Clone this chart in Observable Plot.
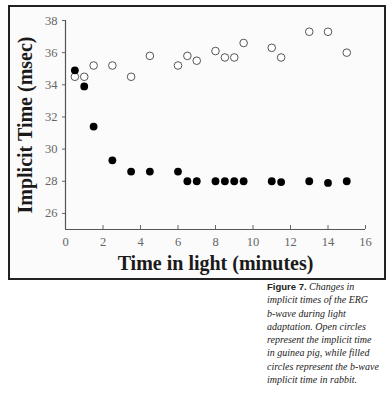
<!DOCTYPE html>
<html>
<head>
<meta charset="utf-8">
<script src="https://cdn.jsdelivr.net/npm/d3@7"></script>
<script src="https://cdn.jsdelivr.net/npm/@observablehq/plot@0.6"></script>
<style>
  html, body { margin: 0; padding: 0; background: #fff; }
  #wrap { position: relative; width: 389px; height: 400px; overflow: hidden; background: #fff; }
  #box { position: absolute; left: 8px; top: 5px; width: 374px; height: 271px; border: 2px solid #222; background: #fbfbfb; }
  #chart { position: absolute; left: 0; top: 0; }
  #caption { position: absolute; left: 267px; top: 280px; width: 122px; font-family: "Liberation Serif", serif; font-style: italic; font-size: 10px; line-height: 13.3px; color: #222; }
  #caption b { font-family: "Liberation Sans", Arial, sans-serif; font-style: normal; font-weight: 900; font-size: 9.5px; }
</style>
</head>
<body>
<div id="wrap">
  <div id="box"></div>
  <div id="chart"></div>
  <div id="caption"><b>Figure 7.</b> Changes in<br>implicit times of the ERG<br>b-wave during light<br>adaptation. Open circles<br>represent the implicit time<br>in guinea pig, while filled<br>circles represent the b-wave<br>implicit time in rabbit.</div>
</div>
<script>
const guineaTime = [0.5, 1, 1.5, 2.5, 3.5, 4.5, 6, 6.5, 7, 8, 8.5, 9, 9.5, 11, 11.5, 13, 14, 15];
const guineaValue = [34.5, 34.5, 35.2, 35.2, 34.5, 35.8, 35.2, 35.8, 35.5, 36.1, 35.7, 35.7, 36.6, 36.3, 35.7, 37.3, 37.3, 36.0];
const rabbitTime = [0.5, 1, 1.5, 2.5, 3.5, 4.5, 6, 6.5, 7, 8, 8.5, 9, 9.5, 11, 11.5, 13, 14, 15];
const rabbitValue = [34.9, 33.9, 31.4, 29.3, 28.6, 28.6, 28.6, 28.0, 28.0, 28.0, 28.0, 28.0, 28.0, 28.0, 27.95, 28.0, 27.9, 28.0];
const xTicks = [0, 2, 4, 6, 8, 10, 12, 14, 16];
const yTicks = [26, 28, 30, 32, 34, 36, 38];
const xTitle = "Time in light (minutes)";
const yTitle = "Implicit Time (msec)";

const guinea = guineaTime.map((t, i) => ({t, v: guineaValue[i]}));
const rabbit = rabbitTime.map((t, i) => ({t, v: rabbitValue[i]}));

const serif = "'Liberation Serif', 'Times New Roman', serif";

const chart = Plot.plot({
  width: 389,
  height: 280,
  marginLeft: 65,
  marginRight: 24,
  marginTop: 20,
  marginBottom: 51,
  style: "background: transparent; font-family: 'Liberation Serif', serif; color: #555;",
  x: { domain: [0, 16] },
  y: { domain: [25, 38] },
  marks: [
    Plot.axisY({ ticks: yTicks, tickSize: 3, tickPadding: 5, fontSize: 12.5, fontFamily: serif, label: null, stroke: "#666", fill: "#666" }),
    Plot.axisX({ ticks: xTicks, tickSize: -4, tickPadding: 12, fontSize: 12.5, fontFamily: serif, label: null, stroke: "#666", fill: "#666" }),
    Plot.ruleX([0], { stroke: "#555", strokeWidth: 1.2 }),
    Plot.ruleY([25], { stroke: "#555", strokeWidth: 1.2 }),
    Plot.dot(guinea, { x: "t", y: "v", r: 3.8, fill: "#fff", stroke: "#555", strokeWidth: 1 }),
    Plot.dot(rabbit, { x: "t", y: "v", r: 3.9, fill: "#000", stroke: "none" }),
    Plot.text([yTitle], { frameAnchor: "left", textAnchor: "middle", lineAnchor: "middle", rotate: -90, dx: -40, fontSize: 20, fontWeight: "bold", fill: "#1a1a1a", fontFamily: serif }),
    Plot.text([xTitle], { frameAnchor: "bottom", textAnchor: "middle", lineAnchor: "middle", dy: 34, fontSize: 20, fontWeight: "bold", fill: "#1a1a1a", fontFamily: serif })
  ]
});
document.getElementById("chart").appendChild(chart);
</script>
</body>
</html>
